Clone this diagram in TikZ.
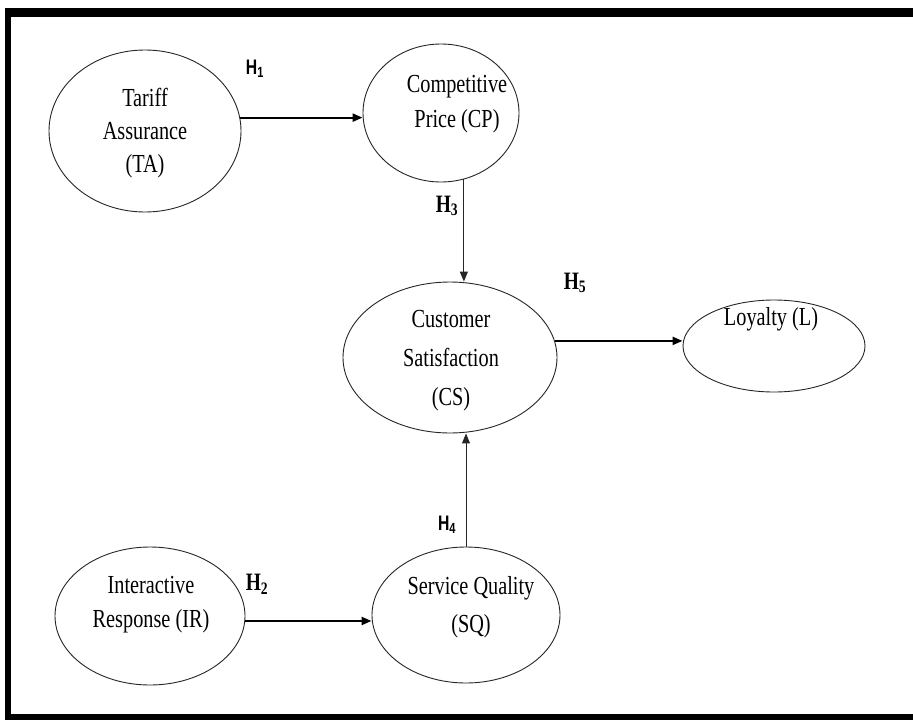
\documentclass[tikz,border=0pt]{standalone}
\usepackage{fontspec}
\setmainfont[FakeStretch=0.78]{Liberation Serif}
\newfontfamily\hsans[FakeStretch=0.75]{Liberation Sans}
\usetikzlibrary{arrows.meta,shapes.geometric}
\tikzset{
  oval/.style={ellipse, draw=black!85, line width=0.9pt, inner sep=0pt},
  txt/.style={align=center, inner sep=0pt, font=\fontsize{26}{#1}\selectfont},
  arr/.style={-{Triangle[length=10pt,width=8pt]}, line width=2.2pt},
  arrthin/.style={-{Triangle[length=10pt,width=8pt]}, line width=1pt, draw=black!85},
  hs/.style={inner sep=0pt, font=\hsans\bfseries\fontsize{21}{21}\selectfont},
  hr/.style={inner sep=0pt, font=\bfseries\fontsize{25}{25}\selectfont},
  band/.style={fill=black}
}
\begin{document}
\begin{tikzpicture}[x=1pt,y=-1pt]
\fill[white] (0,0) rectangle (913,723);
\useasboundingbox (0,0) rectangle (913,723);
% frame
\fill[band] (5,8) rectangle (913,17);
\fill[band] (5,8) rectangle (11,720);
\fill[band] (5,714) rectangle (913,720);
% ellipses
\node[oval, minimum width=192pt, minimum height=162pt] (ta) at (145,131) {};
\node[oval, minimum width=156pt, minimum height=138pt] (cp) at (441,113) {};
\node[oval, minimum width=214pt, minimum height=151pt] (cs) at (450,357.5) {};
\node[oval, minimum width=182pt, minimum height=92pt] (l) at (774,346) {};
\node[oval, minimum width=190pt, minimum height=138pt] (ir) at (150,616) {};
\node[oval, minimum width=188pt, minimum height=136pt] (sq) at (466,615) {};
% texts
\node[txt=33pt] (tat) at (145,133) {Tariff\\Assurance\\(TA)};
\node[txt=35pt] (cpt) at (457,104) {Competitive\\Price (CP)};
\node[txt=39pt] (cst) at (451,361) {Customer\\Satisfaction\\(CS)};
\node[txt=34pt] (lt) at (771,319) {Loyalty (L)};
\node[txt=34pt] (irt) at (151,605) {Interactive\\Response (IR)};
\node[txt=38pt] (sqt) at (471,607) {Service Quality\\(SQ)};
% hypothesis labels
\node[hs] (h1) at (255,69) {H\textsubscript{1}};
\node[hr] (h3) at (447,206) {H\textsubscript{3}};
\node[hr] (h5) at (575,283) {H\textsubscript{5}};
\node[hs] (h4) at (447,525) {H\textsubscript{4}};
\node[hr] (h2) at (257,584) {H\textsubscript{2}};
% connectors
\draw[arr] (ta.8) -- (ta.8 -| cp.west);
\draw[arrthin] (cp.-71) -- (cp.-71 |- cs.north);
\draw[arr] (cs.9.5) -- (cs.9.5 -| l.west);
\draw[arrthin] (sq.north) -- (sq.north |- cs.south);
\draw[arr] (ir.-3.6) -- (ir.-3.6 -| sq.west);
\end{tikzpicture}
\end{document}
